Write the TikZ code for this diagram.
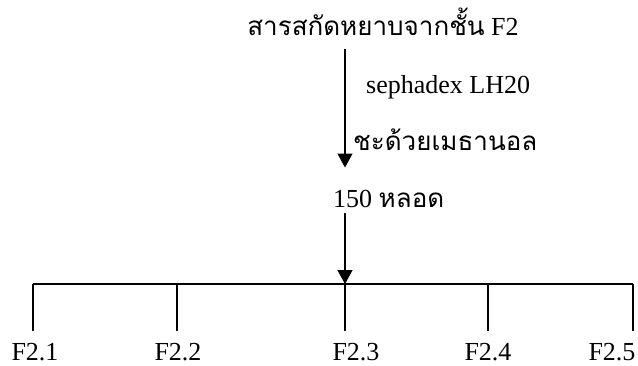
\documentclass[tikz,border=0pt]{standalone}
\usepackage{fontspec}
\setmainfont{Liberation Serif}
\newfontfamily\thaifont[Script=Thai]{Loma}
\usetikzlibrary{arrows.meta,positioning,calc}

\begin{document}
\begin{tikzpicture}[
  x=1pt, y=1pt,
  txt/.style={inner sep=0pt, font=\fontsize{26}{30}\selectfont},
  lbl/.style={inner sep=0pt, anchor=base, font=\fontsize{26}{30}\selectfont},
  arr/.style={-{Triangle[length=14pt,width=15pt]}, line width=1.3pt},
  ln/.style={line width=1.3pt}
]
  \useasboundingbox (0,0) rectangle (638,-365);
  % top part
  \node[txt, anchor=base] (src) at (383,-35) {{\thaifont สารสกัดหยาบจากชั้น} F2};
  \node[txt, anchor=base west] (sep) at (366,-93) {sephadex LH20};
  \node[txt, anchor=base west] (elu) at (353,-150) {\thaifont ชะด้วยเมธานอล};
  \node[txt, anchor=base west] (tube) at (333,-207) {150 {\thaifont หลอด}};
  \coordinate (hub) at (345,-284);
  \draw[arr, shorten <=14pt, shorten >=22pt] (src.south -| hub) -- (tube.north -| hub);
  \draw[arr, shorten <=6pt] (tube.south -| hub) -- (hub);
  % fractions
  \coordinate (b1) at (33,-284);
  \coordinate (b2) at (177,-284);
  \coordinate (b3) at (345,-284);
  \coordinate (b4) at (488,-284);
  \coordinate (b5) at (633,-284);
  \node[lbl] (f1) at (35,-360) {F2.1};
  \node[lbl] (f2) at (178,-360) {F2.2};
  \node[lbl] (f3) at (356,-360) {F2.3};
  \node[lbl] (f4) at (488,-360) {F2.4};
  \node[lbl] (f5) at (612,-360) {F2.5};
  \draw[ln] (b1) -- (b5);
  \foreach \i in {1,...,5}
    \draw[ln, shorten >=12pt] (b\i) -- (b\i |- f\i.north);
\end{tikzpicture}
\end{document}
